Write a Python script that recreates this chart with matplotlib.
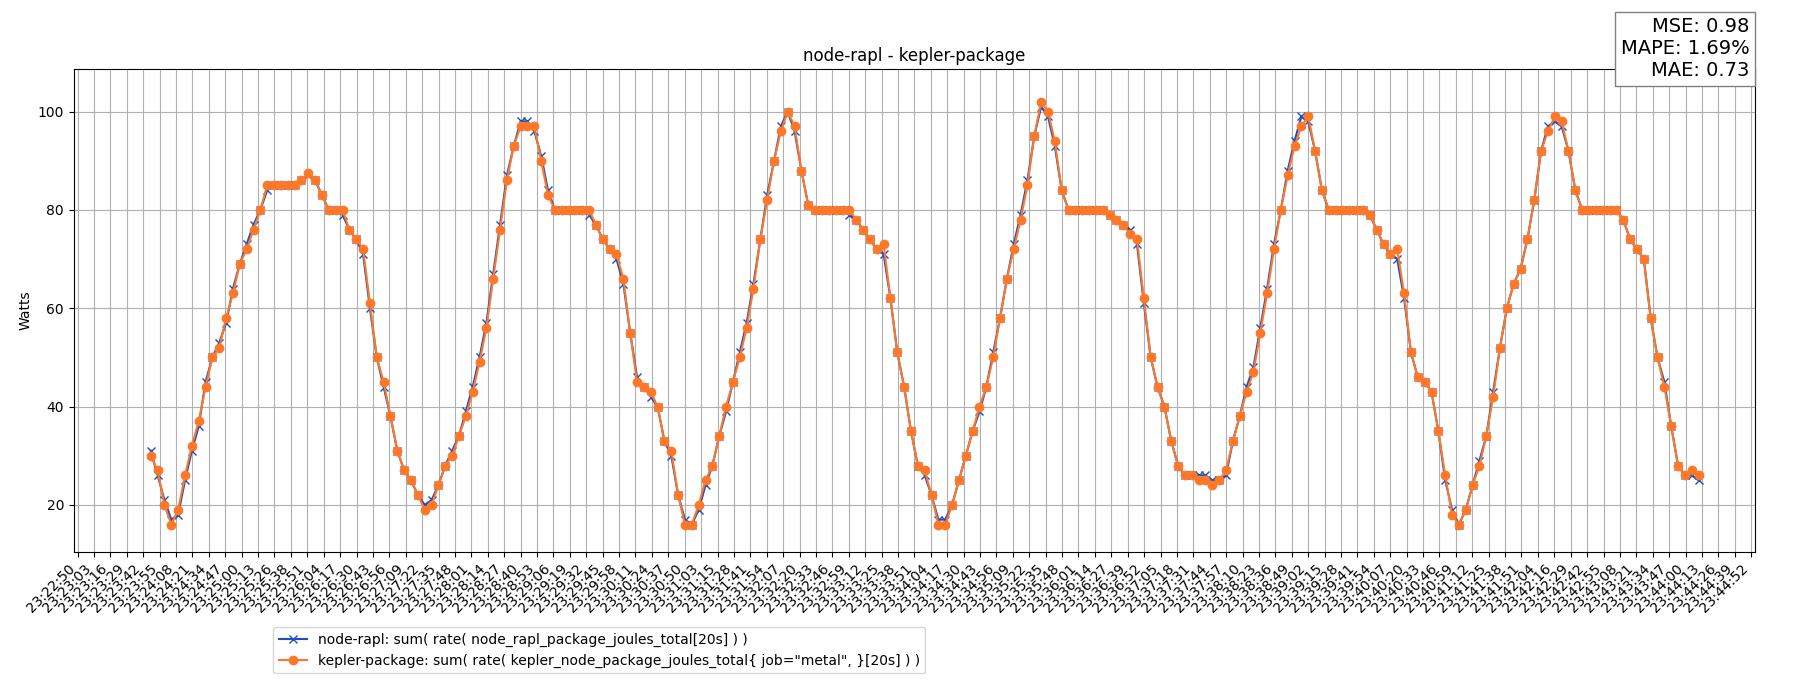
import numpy as np
import matplotlib
matplotlib.use("Agg")
import matplotlib.pyplot as plt
from datetime import datetime, timedelta

start_label = datetime(2024, 1, 1, 23, 22, 50)
span_seconds = 1322
n_ticks = 103
first_sample_s = 57.8
sample_step_s = 5.41

kepler = [30,27,20,16,19,26,32,37,44,50,
          52,58,63,69,72,76,80,85,85,85,
          85,85,86,87.5,86,83,80,80,80,76,
          74,72,61,50,45,38,31,27,25,22,
          19,20,24,28,30,34,38,43,49,56,
          66,76,86,93,97,97,97,90,83,80,
          80,80,80,80,80,77,74,72,71,66,
          55,45,44,43,40,33,31,22,16,16,
          20,25,28,34,40,45,50,56,64,74,
          82,90,96,100,97,88,81,80,80,80,
          80,80,80,78,76,74,72,73,62,51,
          44,35,28,27,22,16,16,20,25,30,
          35,40,44,50,58,66,72,78,85,95,
          102,100,94,84,80,80,80,80,80,80,
          79,78,77,75,74,62,50,44,40,33,
          28,26,26,25,25,24,25,27,33,38,
          43,47,55,63,72,80,87,93,97,99,
          92,84,80,80,80,80,80,80,79,76,
          73,71,72,63,51,46,45,43,35,26,
          18,16,19,24,28,34,42,52,60,65,
          68,74,82,92,96,99,98,92,84,80,
          80,80,80,80,80,78,74,72,70,58,
          50,44,36,28,26,27,26]
node_rapl = [31,26,21,17,18,25,31,36,45,50,
             53,57,64,69,73,77,80,84,85,85,
             85,85,86,87,86,83,80,80,79,76,
             74,71,60,50,44,38,31,27,25,22,
             20,21,24,28,31,34,39,44,50,57,
             67,77,87,93,98,98,96,91,84,80,
             80,80,80,80,79,77,74,72,70,65,
             55,46,44,42,40,33,30,22,17,16,
             19,24,28,34,39,45,51,57,65,74,
             83,90,97,100,96,88,81,80,80,80,
             80,80,79,78,76,74,72,71,62,51,
             44,35,28,26,22,17,17,20,25,30,
             35,39,44,51,58,66,73,79,86,95,
             101,99,93,84,80,80,80,80,80,80,
             79,78,77,76,73,61,50,44,40,33,
             28,26,26,26,26,25,25,26,33,38,
             44,48,56,64,73,80,88,94,99,98,
             92,84,80,80,80,80,80,80,79,76,
             73,71,70,62,51,46,45,43,35,25,
             19,16,19,24,29,34,43,52,60,65,
             68,74,82,92,97,98,97,92,84,80,
             80,80,80,80,80,78,74,72,70,58,
             50,45,36,28,26,26,25]

times = first_sample_s + sample_step_s * np.arange(len(kepler))
tick_pos = np.linspace(0, span_seconds, n_ticks)
tick_labels = [(start_label + timedelta(seconds=float(round(p)))).strftime("%H:%M:%S") for p in tick_pos]

fig = plt.figure(figsize=(18, 7), dpi=100)
ax = fig.add_axes([0.041, 0.212, 0.934, 0.689])
ax.plot(times, node_rapl, color="#1f4fbf", marker="x", markersize=6, linewidth=1.5,
        label='node-rapl: sum( rate( node_rapl_package_joules_total[20s] ) )')
ax.plot(times, kepler, color="#ff7829", marker="o", markersize=6, linewidth=1.5,
        label='kepler-package: sum( rate( kepler_node_package_joules_total{ job="metal", }[20s] ) )')
ax.set_xlim(-3, span_seconds + 3)
ax.set_ylim(10.5, 108.6)
ax.set_xticks(tick_pos)
ax.set_xticklabels(tick_labels, rotation=45, ha="right", fontsize=10)
ax.grid(True, color="#b0b0b0")
ax.set_ylabel("Watts")
ax.set_title("node-rapl - kepler-package")
fig.legend(loc="lower left", bbox_to_anchor=(0.148, 0.028), fontsize=10)
fig.text(0.972, 0.885, "MSE: 0.98\nMAPE: 1.69%\nMAE: 0.73", ha="right", va="bottom", fontsize=14,
         bbox=dict(facecolor="white", edgecolor="gray", boxstyle="square,pad=0.3"), multialignment="right")
fig.savefig("out.png")
